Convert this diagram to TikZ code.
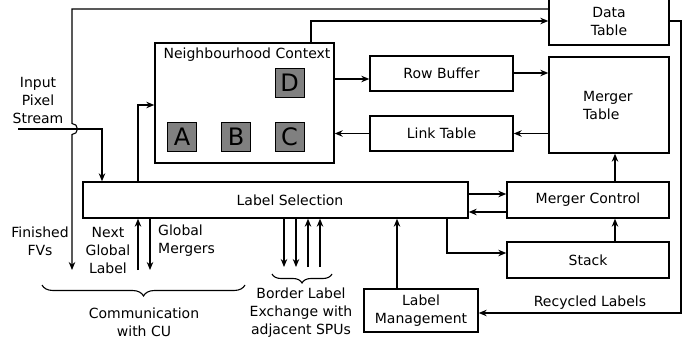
\documentclass[tikz,border=0pt]{standalone}
\usepackage{fontspec}
\setmainfont{DejaVu Sans}
\usetikzlibrary{arrows.meta,decorations.pathreplacing}
\definecolor{sqgray}{HTML}{808080}
\tikzset{
  box/.style={draw,line width=1.4pt,rectangle,inner sep=0pt,align=center},
  sq/.style={draw,line width=0.8pt,fill=sqgray,minimum width=29pt,minimum height=29pt,inner sep=0pt,font=\fontsize{24}{26}\selectfont},
  conn/.style={line width=1.1pt},
  arr/.style={conn,-{Stealth[length=8pt,width=6.5pt]}},
  txt/.style={inner sep=0pt,align=center},
  brc/.style={line width=1.1pt,decorate,decoration={brace,mirror,amplitude=#1}}
}
\begin{document}
\begin{tikzpicture}[x=1pt,y=-1pt,font=\fontsize{14}{18}\selectfont]
\useasboundingbox (0,0) rectangle (696,339);
\clip (0,0) rectangle (696,339);
% boxes
\node[box,minimum width=179pt,minimum height=120pt] (nc) at (244.5,103) {};
\node[txt] (nct) at (247,55) {Neighbourhood Context};
\node[sq] (sa) at (182,136.5) {A};
\node[sq] (sb) at (236,136.5) {B};
\node[sq] (sc) at (289.5,136.5) {C};
\node[sq] (sd) at (289.5,83) {D};
\node[box,minimum width=143pt,minimum height=35pt] (rb) at (441.5,73.5) {Row Buffer};
\node[box,minimum width=143pt,minimum height=35pt] (lt) at (441.5,133.5) {Link Table};
\node[box,minimum width=120pt,minimum height=96pt] (mt) at (609,105) {};
\node[txt,align=left,anchor=west] (mtt) at (583,105) {Merger\\Table};
\node[box,minimum width=120pt,minimum height=60pt] (dt) at (609,15) {};
\node[txt] (dtt) at (609,21.5) {Data\\Table};
\node[box,minimum width=385pt,minimum height=36pt] (ls) at (275.5,200) {};
\node[txt] (lst) at (290,200) {Label Selection};
\node[box,minimum width=162pt,minimum height=36pt] (mc) at (588,200) {Merger Control};
\node[box,minimum width=162pt,minimum height=36pt] (st) at (588,260) {Stack};
\node[box,minimum width=114pt,minimum height=43pt] (lm) at (421,310.5) {Label\\Management};
% free ends
\coordinate (in) at (18,129);
\coordinate (ffv) at (72,270);
\coordinate (ngl) at (138,270);
\coordinate (gm) at (150,270);
% texts
\node[txt] (ipt) at (38,100) {Input\\Pixel\\Stream};
\node[txt] (ffvt) at (40,241) {Finished\\FVs};
\node[txt] (nglt) at (108,250) {Next\\Global\\Label};
\node[txt,align=left,anchor=west] (gmt) at (158,241) {Global\\Mergers};
\node[txt] (cut) at (144,322) {Communication\\with CU};
\node[txt] (blt) at (301,313) {Border Label\\Exchange with\\adjacent SPUs};
\node[txt] (rlt) at (590,303) {Recycled Labels};
% connectors
\draw[arr] (in) -- (102,129) -- (102,0 |- ls.north);
\draw[arr] (dt.west |- 0,9) -- (72,9) -- (72,123.5)
  arc[start angle=90,end angle=-90,radius=5.5pt] -- (ffv);
\draw[arr] (138,0 |- ls.north) |- (nc.west |- 0,105);
\draw[arr] (311,0 |- nc.north) |- (dt.west |- 0,21);
\draw[arr] (nc.east |- 0,79) -- (rb.west |- 0,79);
\draw[arr] (rb.east |- 0,73) -- (mt.west |- 0,73);
\draw[arr] (mt.west |- lt.east) -- (lt.east);
\draw[arr] (lt.west) -- (nc.east |- lt.west);
\draw[arr] (615,0 |- mc.north) -- (615,0 |- mt.south);
\draw[arr] (615,0 |- st.north) -- (615,0 |- mc.south);
\draw[arr] (ls.east |- 0,194) -- (mc.west |- 0,194);
\draw[arr] (mc.west |- 0,212) -- (ls.east |- 0,212);
\draw[arr] (447,0 |- ls.south) |- (st.west |- 0,253);
\draw[arr] (397,0 |- lm.north) -- (397,0 |- ls.south);
\draw[arr] (dt.east |- 0,21) -- (681,21) -- (681,313) -- (lm.east |- 0,313);
\draw[arr] (ngl) -- (ngl |- ls.south);
\draw[arr] (gm |- ls.south) -- (gm);
\draw[arr] (284,0 |- ls.south) -- (284,267);
\draw[arr] (296,0 |- ls.south) -- (296,267);
\draw[arr] (308,267) -- (308,0 |- ls.south);
\draw[arr] (320,267) -- (320,0 |- ls.south);
% braces
\draw[brc=11pt] (42,285) -- (245,285);
\draw[brc=9pt] (272,274) -- (332,274);
\end{tikzpicture}
\end{document}
